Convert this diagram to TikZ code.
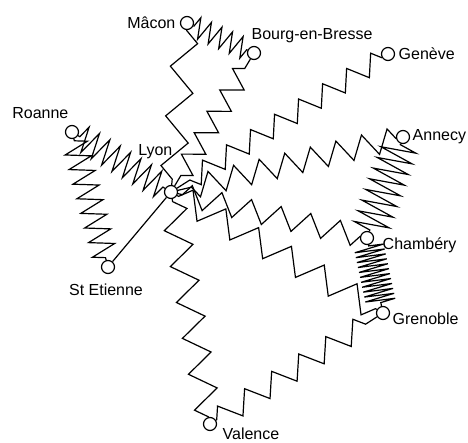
\documentclass[tikz,border=0pt]{standalone}
\usepackage{fontspec}
\setmainfont{Liberation Sans}
\usetikzlibrary{positioning,decorations.pathmorphing}

\begin{document}
\begin{tikzpicture}[x=1pt, y=-1pt, line width=1.2pt,
    town/.style={circle, draw, fill=white, minimum size=13pt, inner sep=0pt},
    townname/.style={inner sep=2pt, font=\fontsize{16}{19}\selectfont},
    spring/.style n args={4}{decorate, decoration={zigzag, segment length=#1pt, amplitude=#2pt, pre length=#3pt, post length=#4pt}}]
        \useasboundingbox (0,0) rectangle (468,443);

        % towns
        \node[town] (lyon) at (171,192) {};
        \node[town] (macon) at (187,23) {};
        \node[town] (bourg) at (254,53) {};
        \node[town] (geneve) at (388,54) {};
        \node[town] (annecy) at (403,137) {};
        \node[town] (chambery) at (367,238) {};
        \node[town] (grenoble) at (383,313) {};
        \node[town] (valence) at (210,424) {};
        \node[town] (stetienne) at (108,267) {};
        \node[town] (roanne) at (72,132) {};

        \node[townname, left=2pt of macon] (lmacon) {Mâcon};
        \node[townname, above right=0pt and -5pt of bourg.north] (lbourg) {Bourg-en-Bresse};
        \node[townname, right=1pt of geneve] (lgeneve) {Genève};
        \node[townname, right=0pt of annecy] (lannecy) {Annecy};
        \node[townname, right=6pt of chambery, yshift=-7pt] (lchambery) {Chambéry};
        \node[townname, right=0pt of grenoble, yshift=-6pt] (lgrenoble) {Grenoble};
        \node[townname, below right=-4pt and 5pt of valence] (lvalence) {Valence};
        \node[townname, below=7pt of stetienne, xshift=-2pt] (lstetienne) {St Etienne};
        \node[townname, above left=6pt and -4pt of roanne] (lroanne) {Roanne};
        \node[townname, above left=26pt and -9pt of lyon] (llyon) {Lyon};

        % springs
        \draw[spring={11.57}{10.5}{0.5}{0.5}] (macon) -- (bourg);
        \draw[spring={49.92}{12.5}{0}{3.5}] (macon) -- (lyon);
        \draw[spring={24.93}{-10.5}{11}{11}] (bourg) -- (lyon);
        \draw[spring={28.47}{-10}{0}{14}] (geneve) -- (lyon);
        \draw[spring={26.29}{-11.5}{0}{12.8}] (annecy) -- (lyon);
        \draw[spring={11.33}{17.5}{1}{1}] (annecy) -- (chambery);
        \draw[spring={30.42}{11}{0}{3.3}] (chambery) -- (lyon);
        \draw[spring={5.04}{15}{1}{1}] (chambery) -- (grenoble);
        \draw[spring={37.77}{12.5}{1.6}{0}] (grenoble) -- (lyon);
        \draw[spring={32.16}{-11}{13.6}{0}] (grenoble) -- (valence);
        \draw[spring={36.4}{13}{0}{1.2}] (valence) -- (lyon);
        \draw[spring={12.14}{13}{2}{2}] (roanne) -- (lyon);
        \draw[spring={15.12}{12.5}{2}{2}] (roanne) -- (stetienne);
        \draw (stetienne) -- (lyon);
    \end{tikzpicture}
\end{document}
